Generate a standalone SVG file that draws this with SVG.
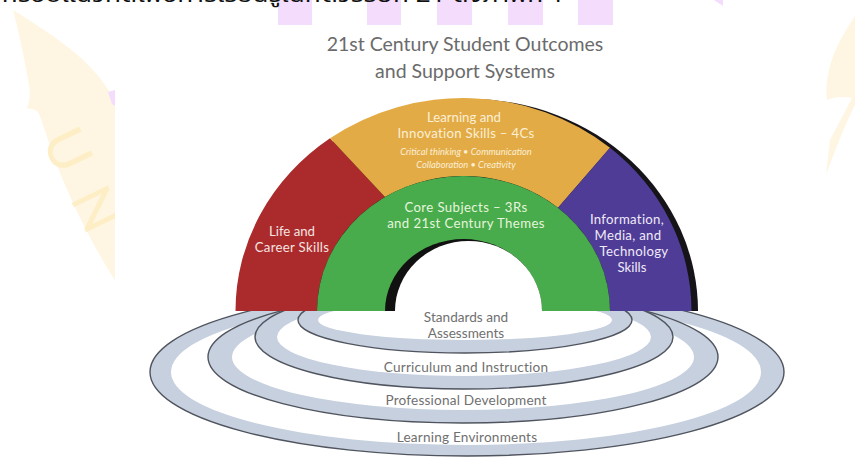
<svg xmlns="http://www.w3.org/2000/svg" width="855" height="461" viewBox="0 0 855 461">
  <style>
    .wm { fill: #fef6e2; }
    .pk { fill: #f4dcfc; }
    .ring { fill: #c7d0de; stroke: #4f545e; stroke-width: 1.4; }
    .gap { fill: #ffffff; }
    .ttl { font-family: Lato, "Open Sans", sans-serif; fill: #6b6b6b; text-anchor: middle; font-size: 19.5px; }
    .lbl { font-family: Lato, "Open Sans", sans-serif; text-anchor: middle; font-size: 13.2px; }
    .it { font-family: Lato, "Open Sans", sans-serif; text-anchor: middle; font-size: 9.3px; font-style: italic; fill: #fbefd6; }
    .rl { font-family: Lato, "Open Sans", sans-serif; fill: #707070; text-anchor: middle; font-size: 13.6px; }
  </style>
  <defs>
    <clipPath id="leftClip"><rect x="0" y="0" width="115" height="461"/></clipPath>
  </defs>
  <rect x="0" y="0" width="855" height="461" fill="#ffffff"/>

  <!-- watermark background -->
  <g id="watermark">
    <g clip-path="url(#leftClip)">
      <path class="wm" d="M13,10 C45,30 85,55 105,85 C112,95 115,100 118,105 L118,285 C95,250 72,205 55,160 C47,138 42,120 38,112 C34,108 30,110 27,108 C30,100 31,92 28,80 C24,55 18,30 13,10 Z"/>
      <text transform="translate(41,140) rotate(64)" font-family="Lato, sans-serif" font-size="56" fill="#fdeec6" letter-spacing="24">UN</text>
    </g>
    <path class="wm" d="M855,16 C846,30 834,48 829,70 C826,82 826,92 827,100 C834,97 842,96 852,98 L830,140 L826,175 C835,150 845,125 855,105 Z"/>
    <path class="pk" d="M108,92 L115,90 L115,106 L112,104 Z"/>
    <path class="pk" d="M714,0 L723,0 L723,6 Z"/>
    <rect class="pk" x="278" y="0" width="34" height="25"/>
    <rect class="pk" x="367" y="0" width="34" height="25"/>
    <rect class="pk" x="437" y="0" width="35" height="25"/>
    <rect class="pk" x="508" y="0" width="35" height="25"/>
    <rect class="pk" x="578" y="0" width="35" height="25"/>
  </g>

  <text x="2" y="2" font-family="'Noto Sans Thai', 'Noto Sans', 'DejaVu Sans', sans-serif" font-size="22" fill="#111111" textLength="563" lengthAdjust="spacingAndGlyphs">กรอบแนวคิดเพื่อการเรียนรู้ในศตวรรษที่ 21 ดังภาพที่ 1</text>

  <!-- title -->
  <g id="title">
    <text class="ttl" x="465" y="51">21st Century Student Outcomes</text>
    <text class="ttl" x="465" y="78">and Support Systems</text>
  </g>

  <!-- support system rings -->
  <g id="rings">
    <g id="ring-learning-environments">
      <ellipse class="ring" cx="467" cy="372" rx="317" ry="84"/>
      <ellipse class="gap" cx="466" cy="372" rx="295" ry="73"/>
    </g>
    <g id="ring-professional-development">
      <ellipse class="ring" cx="463" cy="357" rx="255" ry="66"/>
      <ellipse class="gap" cx="463" cy="357" rx="231" ry="53"/>
    </g>
    <g id="ring-curriculum-instruction">
      <ellipse class="ring" cx="464" cy="337" rx="209" ry="52"/>
      <ellipse class="gap" cx="464" cy="337" rx="187" ry="39"/>
    </g>
    <g id="ring-standards-assessments">
      <ellipse class="ring" cx="465" cy="320" rx="167" ry="33"/>
      <ellipse class="gap" cx="465" cy="320" rx="147" ry="20"/>
    </g>
  </g>

  <!-- outcomes arch -->
  <g id="arch">
    <path d="M242,311 A228,212 0 0,1 698,311 Z" fill="#161418"/>
    <g id="life-career">
      <path d="M235.5,311 A228,213 0 0,1 330,138.3 L385,197 A146.5,135 0 0,0 317,311 Z" fill="#ab2b2c"/>
      <text class="lbl" fill="#f4e4e0" x="292" y="236">Life and</text>
      <text class="lbl" fill="#f4e4e0" x="292" y="252" letter-spacing="0.3">Career Skills</text>
    </g>
    <g id="learning-innovation">
      <path d="M330,138.3 A228,213 0 0,1 610,147.8 L558,207.8 A146.5,135 0 0,0 385,197 Z" fill="#e3ab45"/>
      <text class="lbl" fill="#fbefd6" x="464" y="122">Learning and</text>
      <text class="lbl" fill="#fbefd6" x="466" y="138" letter-spacing="0.3">Innovation Skills – 4Cs</text>
      <text class="it" x="466" y="155">Critical thinking • Communication</text>
      <text class="it" x="466" y="168">Collaboration • Creativity</text>
    </g>
    <g id="information-media">
      <path d="M610,147.8 A228,213 0 0,1 691.5,311 L610,311 A146.5,135 0 0,0 558,207.8 Z" fill="#4f3c96"/>
      <text class="lbl" fill="#eeeaf8" x="627" y="224" letter-spacing="0.3">Information,</text>
      <text class="lbl" fill="#eeeaf8" x="628" y="240" letter-spacing="0.3">Media, and</text>
      <text class="lbl" fill="#eeeaf8" x="634" y="256" letter-spacing="0.3">Technology</text>
      <text class="lbl" fill="#eeeaf8" x="632" y="272">Skills</text>
    </g>
    <g id="core-subjects">
      <path d="M317,311 A146.5,135 0 0,1 610,311 Z" fill="#48ac4c"/>
      <path d="M385,311 A78.5,72 0 0,1 542,311 Z" fill="#111111"/>
      <path d="M395,311 A73.5,70 0 0,1 542,311 Z" fill="#ffffff"/>
      <text class="lbl" fill="#e6f4dc" x="466" y="212" letter-spacing="0.4">Core Subjects – 3Rs</text>
      <text class="lbl" fill="#e6f4dc" x="466" y="228" letter-spacing="0.4">and 21st Century Themes</text>
    </g>
  </g>

  <!-- ring labels -->
  <g id="ring-labels">
    <text class="rl" x="466" y="322">Standards and</text>
    <text class="rl" x="466" y="338">Assessments</text>
    <text class="rl" x="466" y="372" letter-spacing="0.2">Curriculum and Instruction</text>
    <text class="rl" x="466" y="405" letter-spacing="0.2">Professional Development</text>
    <text class="rl" x="467" y="442" letter-spacing="0.2">Learning Environments</text>
  </g>
</svg>
